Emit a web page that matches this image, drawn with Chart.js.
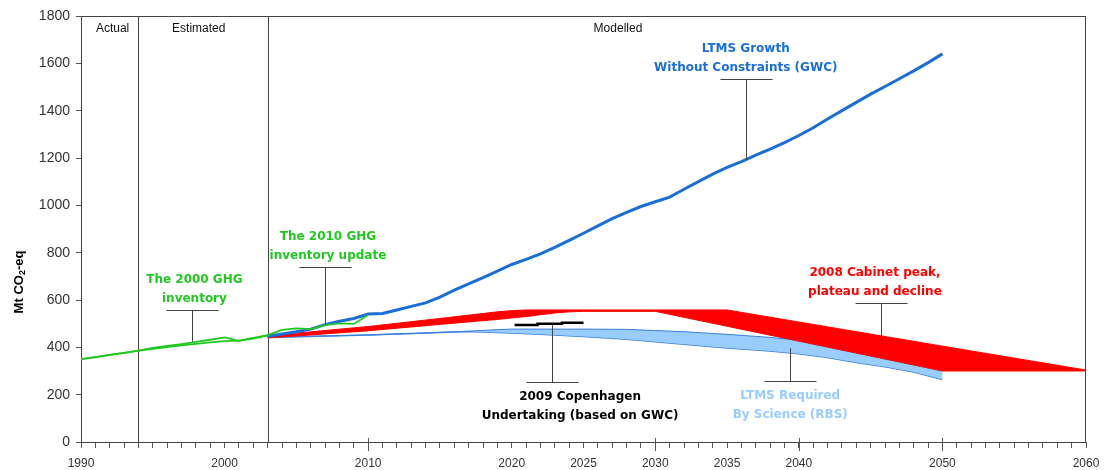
<!DOCTYPE html>
<html lang="en">
<head>
    <meta charset="UTF-8">
    <title>LTMS emission scenarios</title>
    <script src="https://cdn.jsdelivr.net/npm/chart.js"></script>
    <style>
        body {
            margin: 0;
            background: #fff;
        }
        #wrap {
            width: 1108px;
            height: 470px;
        }
    </style>
</head>
<body>
    <div id="wrap">
        <canvas id="ltmsChart"></canvas>
    </div>

    <script>
        // Green: GHG inventories (actual / estimated)
        const inv2000Years = [1990, 1991, 1992, 1993, 1994, 1995, 1996, 1997, 1998, 1999, 2000, 2001, 2002, 2003];
        const inv2000Values = [350, 359, 368, 377, 386, 394, 401, 408, 415, 421, 426, 428, 440, 450];

        const inv2010Years = [1990, 1991, 1992, 1993, 1994, 1995, 1996, 1997, 1998, 1999, 2000, 2001, 2002, 2003, 2004, 2005, 2006, 2007, 2008, 2009, 2010];
        const inv2010Values = [350, 359, 368, 377, 386, 398, 406, 414, 423, 432, 442, 427, 437, 452, 474, 480, 477, 494, 501, 499, 537];

        // Blue: LTMS Growth Without Constraints
        const gwcYears = [2003, 2004, 2005, 2006, 2007, 2008, 2009, 2010, 2011, 2012, 2013, 2014, 2015, 2016, 2017, 2018, 2019, 2020,
            2021, 2022, 2023, 2024, 2025, 2026, 2027, 2028, 2029, 2030, 2031, 2032, 2033, 2034, 2035, 2036, 2037, 2038,
            2039, 2040, 2041, 2042, 2043, 2044, 2045, 2046, 2047, 2048, 2049, 2050];
        const gwcValues = [447, 456, 466, 477, 496, 510, 522, 541, 543, 558, 573, 588, 612, 642, 668, 695, 722, 750,
            772, 795, 822, 852, 882, 913, 944, 970, 995, 1015, 1035, 1068, 1100, 1132, 1160, 1185, 1212, 1238,
            1265, 1295, 1328, 1365, 1400, 1435, 1470, 1502, 1535, 1568, 1603, 1640];

        // Red band: 2008 Cabinet peak, plateau and decline
        const ppdYears = [2003, 2005, 2010, 2015, 2019, 2020, 2021, 2022, 2023, 2024, 2025, 2030, 2035, 2050, 2060];
        const ppdUpper = [450, 460, 488, 522, 550, 555, 558, 558, 558, 558, 558, 558, 558, 405, 304];
        const ppdLower = [440, 448, 470, 497, 518, 524, 530, 538, 545, 550, 552, 552, 489, 300, 300];

        // Light blue band: LTMS Required By Science
        const rbsYears = [2003, 2005, 2010, 2013, 2015, 2017, 2019, 2020, 2022, 2025, 2028, 2030, 2032, 2035, 2038, 2040, 2042, 2044, 2046, 2048, 2050];
        const rbsUpper = [442, 445, 452, 458, 463, 468, 475, 477, 477, 477, 476, 471, 466, 455, 442, 430, 410, 385, 360, 335, 300];
        const rbsLower = [442, 445, 452, 458, 463, 467, 463, 461, 455, 446, 434, 424, 413, 397, 384, 373, 357, 336, 318, 296, 264];

        // Black: 2009 Copenhagen undertaking
        const copYears = [2020.2, 2021.8, 2023.5, 2025];
        const copValues = [494, 500, 504, 504];

        const xLabelYears = [1990, 2000, 2010, 2020, 2025, 2030, 2035, 2040, 2050, 2060];
        const longTickYears = [2010, 2030, 2040, 2050];
        const periodLines = [1994, 2003];
        const periodLabels = [
            { text: 'Actual', year: 1992.2 },
            { text: 'Estimated', year: 1998.2 },
            { text: 'Modelled', year: 2027.4 }
        ];

        const GREEN = '#22c822';
        const BLUE = '#1a6ed8';
        const RED = '#ff0000';
        const LIGHT_BLUE = '#99ccff';

        // callouts: x = year of the stem, bar/tip = values, tx = text centre year
        const callouts = [
            { x: 1997.75, bar: 556, tip: 424, tx: 1997.9, color: GREEN, lines: ['The 2000 GHG', 'inventory'] },
            { x: 2006.97, bar: 741, tip: 494, tx: 2007.2, color: GREEN, lines: ['The 2010 GHG', 'inventory update'] },
            { x: 2036.32, bar: 1534, tip: 1191, tx: 2036.3, color: BLUE, lines: ['LTMS Growth', 'Without Constraints (GWC)'] },
            { x: 2045.7, bar: 586, tip: 417, tx: 2045.3, color: RED, lines: ['2008 Cabinet peak,', 'plateau and decline'] },
            { x: 2022.78, bar: 255, tip: 494, tx: 2024.76, color: '#000', below: true, lines: ['2009 Copenhagen', 'Undertaking (based on GWC)'] },
            { x: 2039.38, bar: 258, tip: 396, tx: 2039.4, color: LIGHT_BLUE, below: true, lines: ['LTMS Required', 'By Science (RBS)'] }
        ];

        function pts(xs, ys) {
            return xs.map((yr, i) => ({ x: yr, y: ys[i] }));
        }

        function seg(ctx, x1, y1, x2, y2) {
            ctx.beginPath();
            ctx.moveTo(x1, y1);
            ctx.lineTo(x2, y2);
            ctx.stroke();
        }

        const overlay = {
            id: 'overlay',
            beforeDatasetsDraw(chart) {
                const { ctx, chartArea: a, scales: { x } } = chart;
                ctx.save();
                ctx.strokeStyle = '#444';
                ctx.lineWidth = 1;
                periodLines.forEach(yr => {
                    const px = Math.round(x.getPixelForValue(yr)) + 0.5;
                    seg(ctx, px, a.top, px, a.bottom);
                });
                ctx.strokeRect(a.left + 0.5, a.top + 0.5, a.right - a.left - 1, a.bottom - a.top);
                ctx.fillStyle = '#111';
                ctx.font = '12px "Liberation Sans", Arial, sans-serif';
                ctx.textAlign = 'center';
                ctx.textBaseline = 'middle';
                periodLabels.forEach(p => ctx.fillText(p.text, x.getPixelForValue(p.year), a.top + 13));
                ctx.restore();
            },
            afterDatasetsDraw(chart) {
                const { ctx, chartArea: a, scales: { x, y } } = chart;
                ctx.save();

                // longer ticks through the x axis
                ctx.strokeStyle = '#555';
                ctx.lineWidth = 1;
                longTickYears.forEach(yr => {
                    const px = Math.round(x.getPixelForValue(yr)) + 0.5;
                    seg(ctx, px, a.bottom - 4, px, a.bottom + 9);
                });

                // callouts
                ctx.font = 'bold 12px "DejaVu Sans", Verdana, sans-serif';
                ctx.textAlign = 'center';
                ctx.textBaseline = 'middle';
                callouts.forEach(c => {
                    const px = Math.round(x.getPixelForValue(c.x)) + 0.5;
                    const by = Math.round(y.getPixelForValue(c.bar)) + 0.5;
                    const ty = y.getPixelForValue(c.tip);
                    const tx = x.getPixelForValue(c.tx);
                    ctx.strokeStyle = '#444';
                    seg(ctx, px - 26, by, px + 26, by);
                    seg(ctx, px, by, px, ty);
                    ctx.fillStyle = c.color;
                    if (c.below) {
                        ctx.fillText(c.lines[0], tx, by + 14);
                        ctx.fillText(c.lines[1], tx, by + 33);
                    } else {
                        ctx.fillText(c.lines[1], tx, by - 12);
                        ctx.fillText(c.lines[0], tx, by - 31);
                    }
                });

                // y axis title with subscript
                ctx.translate(19, 282);
                ctx.rotate(-Math.PI / 2);
                ctx.fillStyle = '#000';
                ctx.textAlign = 'left';
                const big = 'bold 13px "Liberation Sans", Arial, sans-serif';
                const small = 'bold 9px "Liberation Sans", Arial, sans-serif';
                ctx.font = big;
                const w1 = ctx.measureText('Mt CO').width;
                const w3 = ctx.measureText('-eq').width;
                ctx.font = small;
                const w2 = ctx.measureText('2').width;
                let cx = -(w1 + w2 + w3) / 2;
                ctx.font = big;
                ctx.fillText('Mt CO', cx, 0);
                cx += w1;
                ctx.font = small;
                ctx.fillText('2', cx, 4);
                cx += w2;
                ctx.font = big;
                ctx.fillText('-eq', cx, 0);

                ctx.restore();
            }
        };

        const line = { pointRadius: 0, tension: 0, fill: false };

        new Chart(document.getElementById('ltmsChart'), {
            type: 'line',
            data: {
                datasets: [
                    { ...line, label: 'RBS lower', data: pts(rbsYears, rbsLower), borderColor: '#3a80e0', borderWidth: 1.5, order: 10 },
                    { ...line, label: 'RBS', data: pts(rbsYears, rbsUpper), borderColor: '#3a80e0', borderWidth: 1,
                        fill: { target: 0 }, backgroundColor: LIGHT_BLUE, order: 9 },
                    { ...line, label: 'PPD lower', data: pts(ppdYears, ppdLower), borderColor: RED, borderWidth: 1, order: 8 },
                    { ...line, label: 'PPD', data: pts(ppdYears, ppdUpper), borderColor: RED, borderWidth: 1,
                        fill: { target: 2 }, backgroundColor: RED, order: 7 },
                    { ...line, label: 'Copenhagen', data: pts(copYears, copValues), borderColor: '#000', borderWidth: 2.5,
                        stepped: 'before', order: 6 },
                    { ...line, label: 'GWC', data: pts(gwcYears, gwcValues), borderColor: BLUE, borderWidth: 3, order: 5 },
                    { ...line, label: '2000 inventory', data: pts(inv2000Years, inv2000Values), borderColor: GREEN, borderWidth: 1.8, order: 4 },
                    { ...line, label: '2010 update', data: pts(inv2010Years, inv2010Values), borderColor: GREEN, borderWidth: 1.8, order: 3 }
                ]
            },
            options: {
                responsive: true,
                maintainAspectRatio: false,
                animation: false,
                layout: { padding: { left: 0, top: 16, right: 22, bottom: 0 } },
                plugins: {
                    legend: { display: false },
                    tooltip: { enabled: false },
                    filler: { drawTime: 'beforeDatasetDraw' }
                },
                scales: {
                    x: {
                        type: 'linear',
                        min: 1990,
                        max: 2060,
                        afterFit: s => { s.height = 28; },
                        border: { color: '#555' },
                        grid: { drawOnChartArea: false, tickLength: 6, color: '#555' },
                        ticks: {
                            stepSize: 1,
                            autoSkip: false,
                            maxTicksLimit: 100,
                            maxRotation: 0,
                            padding: 8,
                            color: '#333',
                            font: { family: '"Liberation Sans", Arial, sans-serif', size: 12 },
                            callback: v => xLabelYears.includes(v) ? String(v) : ''
                        }
                    },
                    y: {
                        min: 0,
                        max: 1800,
                        afterFit: s => { s.width = 81; },
                        border: { color: '#555' },
                        grid: { drawOnChartArea: false, tickLength: 5, color: '#555' },
                        ticks: {
                            stepSize: 200,
                            padding: 6,
                            color: '#333',
                            font: { family: '"Liberation Sans", Arial, sans-serif', size: 14 },
                            callback: v => String(v)
                        }
                    }
                }
            },
            plugins: [overlay]
        });
    </script>
</body>
</html>
